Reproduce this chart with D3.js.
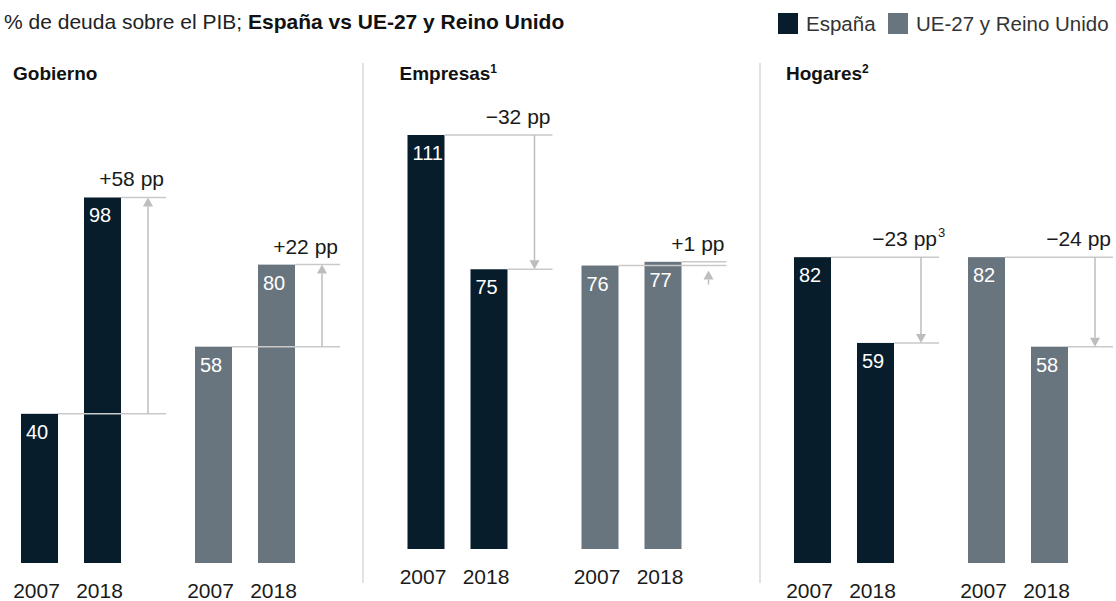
<!DOCTYPE html>
<html>
<head>
<meta charset="utf-8">
<script src="https://cdn.jsdelivr.net/npm/d3@7"></script>
<style>
  html, body { margin: 0; padding: 0; background: #fff; }
  svg { display: block; font-family: "Liberation Sans", Arial, sans-serif; }
</style>
</head>
<body>
<div id="chart"></div>
<script>
// data
const panels = ["Gobierno", "Empresas", "Hogares"];
const panelNotes = ["", "1", "2"];
const series = ["España", "UE-27 y Reino Unido"];
const years = ["2007", "2018"];
const espana = [[40, 98], [111, 75], [82, 59]];
const ue = [[58, 80], [76, 77], [82, 58]];
const deltaLabels = [["+58 pp", "+22 pp"], ["\u221232 pp", "+1 pp"], ["\u221223 pp", "\u221224 pp"]];
const deltaNotes = [["", ""], ["", ""], ["3", ""]];

const W = 1116, H = 601;
const C = { dark: "#071d2c", grey: "#68747e", line: "#c9c9c9", arrow: "#bdbdbd", text: "#1a1a1a" };
const baseY = { Gobierno: 563, Empresas: 549, Hogares: 563 };

const svg = d3.select("#chart").append("svg").attr("width", W).attr("height", H);

// title + legend
const title = svg.append("text").attr("x", 4).attr("y", 29).style("font-size", "21px").attr("fill", "#222");
title.append("tspan").text("% de deuda sobre el PIB; ");
title.append("tspan").attr("font-weight", "bold").attr("fill", "#111").text("España vs UE-27 y Reino Unido");

const colorOf = d3.scaleOrdinal().domain(series).range([C.dark, C.grey]);
const legX = d3.scaleOrdinal().domain(series).range([778, 888]);
const leg = svg.append("g").selectAll("g").data(series).join("g")
  .attr("transform", (d) => `translate(${legX(d)},13)`);
leg.append("rect").attr("width", 20).attr("height", 21).attr("fill", colorOf);
leg.append("text").attr("x", 28).attr("y", 18).style("font-size", "20.5px").attr("fill", "#333").text((d) => d);

// scales
const px = d3.scaleBand().domain(panels).range([21, 21 + 3 * 386.5]);
const sx = d3.scaleBand().domain(series).range([0, 274]).paddingInner(74 / 174);
const yx = d3.scaleBand().domain(years).range([0, 100]).paddingInner(26 / 63);
const h = d3.scaleLinear().domain([0, 111]).range([0, 414]);

// separators
svg.append("g").selectAll("line").data([363, 760]).join("line")
  .attr("x1", (d) => d).attr("x2", (d) => d).attr("y1", 63).attr("y2", 583)
  .attr("stroke", "#d9d9d9").attr("stroke-width", 1.5);

const rows = [];
panels.forEach((p, i) => {
  series.forEach((s, j) => {
    const vals = j === 0 ? espana[i] : ue[i];
    rows.push({ panel: p, pi: i, series: s, sj: j, vals, label: deltaLabels[i][j], note: deltaNotes[i][j] });
  });
});

panels.forEach((p, i) => {
  const t = svg.append("text").attr("x", px(p) - 8).attr("y", 80)
    .attr("font-weight", "bold").style("font-size", "19px").attr("fill", "#111");
  t.append("tspan").text(p);
  if (panelNotes[i]) t.append("tspan").attr("dy", -7).style("font-size", "12px").text(panelNotes[i]);
});

const groups = svg.append("g").selectAll("g.pair").data(rows).join("g")
  .attr("class", "pair")
  .attr("transform", (d) => `translate(${px(d.panel) + sx(d.series)},0)`);

groups.each(function (d) {
  const g = d3.select(this);
  const b = baseY[d.panel];
  const bars = years.map((yr, k) => ({ yr, v: d.vals[k] }));

  g.selectAll("rect").data(bars).join("rect")
    .attr("x", (e) => yx(e.yr)).attr("width", yx.bandwidth())
    .attr("y", (e) => b - h(e.v)).attr("height", (e) => h(e.v))
    .attr("fill", colorOf(d.series));

  g.selectAll("text.val").data(bars).join("text").attr("class", "val")
    .attr("x", (e) => yx(e.yr) + 5).attr("y", (e) => b - h(e.v) + 25)
    .style("font-size", "20px").attr("fill", "#fff").text((e) => e.v);

  g.selectAll("text.yr").data(bars).join("text").attr("class", "yr")
    .attr("x", (e) => yx(e.yr) + yx.bandwidth() / 2 - 3).attr("y", b + 35)
    .attr("text-anchor", "middle").style("font-size", "21px").attr("fill", C.text).text((e) => e.yr);

  // connector lines
  const endX = 145, arrX = 127;
  g.selectAll("line.conn").data(bars).join("line").attr("class", "conn")
    .attr("x1", (e) => yx(e.yr) + yx.bandwidth()).attr("x2", endX)
    .attr("y1", (e) => b - h(e.v)).attr("y2", (e) => b - h(e.v))
    .attr("stroke", C.line).attr("stroke-width", 1.5);

  // arrow
  const y0 = b - h(d.vals[0]), y1 = b - h(d.vals[1]);
  const head = 9, hw = 5;
  let from, to;
  if (Math.abs(y1 - y0) < 20) { from = Math.max(y0, y1) + 19; to = Math.max(y0, y1) + 5; }
  else { from = y0; to = y1; }
  const dir = to < from ? 1 : -1;
  g.append("line").attr("x1", arrX).attr("x2", arrX).attr("y1", from).attr("y2", to + dir * head)
    .attr("stroke", C.arrow).attr("stroke-width", 1.5);
  g.append("path")
    .attr("d", `M${arrX},${to} L${arrX - hw},${to + dir * head} L${arrX + hw},${to + dir * head} Z`)
    .attr("fill", C.arrow);

  // delta label
  const top = Math.min(y0, y1);
  g.append("text").attr("x", endX - 2).attr("y", top - 11)
    .attr("text-anchor", "end").style("font-size", "21px").attr("fill", C.text).text(d.label);
  if (d.note) {
    g.append("text").attr("x", endX - 1).attr("y", top - 20)
      .style("font-size", "13px").attr("fill", C.text).text(d.note);
  }
});
</script>
</body>
</html>
